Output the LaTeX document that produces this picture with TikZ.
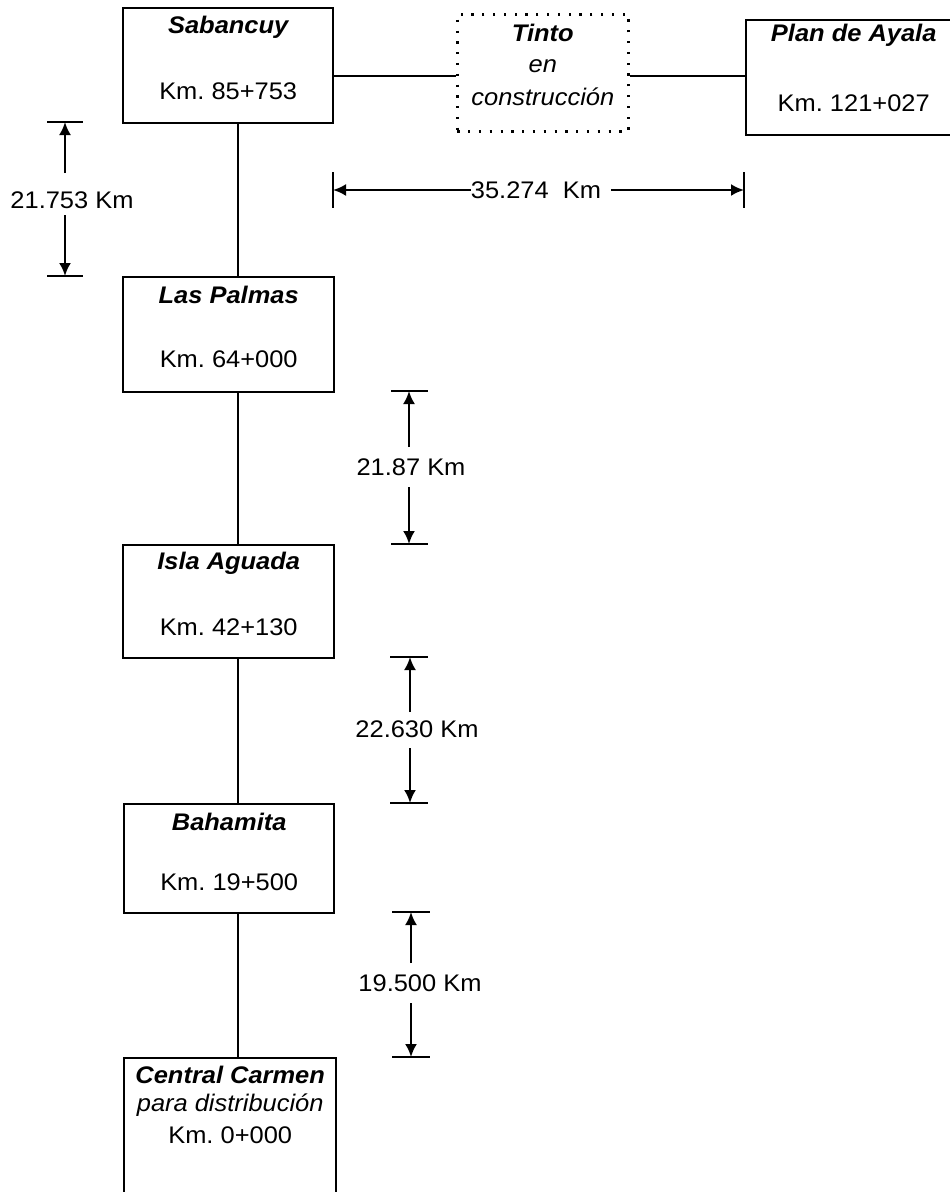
\documentclass[tikz,border=0pt]{standalone}
\usepackage{fontspec}
\setmainfont{Liberation Sans}[FakeStretch=1.06]
\usetikzlibrary{arrows.meta,calc}
\frenchspacing
\begin{document}
\begin{tikzpicture}[x=1pt,y=-1pt,
  box/.style={draw,line width=2.4pt,rectangle,inner sep=0pt,anchor=north west},
  dotbox/.style={draw,line width=2.6pt,dash pattern=on 2.2pt off 8.6pt,rectangle,inner sep=0pt,anchor=north west},
  ttl/.style={font=\fontsize{24}{28}\selectfont\bfseries\itshape,inner sep=0pt},
  itl/.style={font=\fontsize{24}{28}\selectfont\itshape,inner sep=0pt},
  km/.style={font=\fontsize{24}{28}\selectfont,inner sep=0pt},
  ln/.style={line width=2.2pt},
  tickln/.style={line width=1.4pt},
  arr/.style={line width=2.2pt,-{Latex[length=13pt,width=12pt]}},
  dim/.style={font=\fontsize{24}{28}\selectfont,inner sep=0pt}
]
\useasboundingbox (0,0) rectangle (950,1192);
\clip (0,0) rectangle (950,1192);

% boxes
\node[box,minimum width=210pt,minimum height=115pt] (sab) at (122,7) {};
\node[dotbox,minimum width=171pt,minimum height=117pt] (tin) at (456,13) {};
\node[box,minimum width=215pt,minimum height=115pt] (pla) at (745,19) {};
\node[box,minimum width=211pt,minimum height=115pt] (lp) at (122,276) {};
\node[box,minimum width=211pt,minimum height=113pt] (ia) at (122,544) {};
\node[box,minimum width=210pt,minimum height=109pt] (bah) at (123,803) {};
\node[box,minimum width=212pt,minimum height=160pt] (cc) at (123,1057) {};

% texts in boxes
\node[ttl] (sabT) at ([yshift=-20pt]sab.north) {Sabancuy};
\node[km]  (sabK) at ([yshift=-84pt]sab.north) {Km. 85+753};
\node[ttl] (tinT) at ([yshift=-20pt]tin.north) {Tinto};
\node[itl] (tinE) at ([yshift=-53pt]tin.north) {en};
\node[itl] (tinC) at ([yshift=-84pt]tin.north) {construcción};
\node[ttl] (plaT) at ([yshift=-16pt]pla.north) {Plan de Ayala};
\node[km]  (plaK) at ([yshift=-84pt]pla.north) {Km. 121+027};
\node[ttl] (lpT) at ([yshift=-19pt]lp.north) {Las Palmas};
\node[km]  (lpK) at ([yshift=-83pt]lp.north) {Km. 64+000};
\node[ttl] (iaT) at ([yshift=-19pt]ia.north) {Isla Aguada};
\node[km]  (iaK) at ([yshift=-83pt]ia.north) {Km. 42+130};
\node[ttl] (bahT) at ([yshift=-19pt]bah.north) {Bahamita};
\node[km]  (bahK) at ([yshift=-79pt]bah.north) {Km. 19+500};
\node[ttl] (ccT) at ([yshift=-18pt]cc.north) {Central Carmen};
\node[itl] (ccP) at ([yshift=-48pt]cc.north) {para distribución};
\node[km]  (ccK) at ([yshift=-78pt]cc.north) {Km. 0+000};

% connectors
\coordinate (vl) at (238,0);
\coordinate (hl) at (0,76);
\draw[ln] (sab.south -| vl) -- (lp.north -| vl);
\draw[ln] (lp.south -| vl) -- (ia.north -| vl);
\draw[ln] (ia.south -| vl) -- (bah.north -| vl);
\draw[ln] (bah.south -| vl) -- (cc.north -| vl);
\draw[ln] (sab.east |- hl) -- (tin.west |- hl);
\draw[ln] (tin.east |- hl) -- (pla.west |- hl);

% dimension 21.753
\coordinate (d1a) at (65,122);
\coordinate (d1b) at (65,276);
\node[dim] (d1t) at (72,200) {21.753 Km};
\draw[tickln] ([xshift=-18pt]d1a) -- ([xshift=18pt]d1a);
\draw[tickln] ([xshift=-18pt]d1b) -- ([xshift=18pt]d1b);
\draw[arr] ($(d1a)+(0,51)$) -- (d1a);
\draw[arr] ($(d1b)+(0,-61)$) -- (d1b);

% dimension 21.87
\coordinate (d2a) at (409,391);
\coordinate (d2b) at (409,544);
\node[dim] (d2t) at (411,467) {21.87 Km};
\draw[tickln] ([xshift=-18pt]d2a) -- ([xshift=19pt]d2a);
\draw[tickln] ([xshift=-18pt]d2b) -- ([xshift=19pt]d2b);
\draw[arr] ($(d2a)+(0,56)$) -- (d2a);
\draw[arr] ($(d2b)+(0,-57)$) -- (d2b);

% dimension 22.630
\coordinate (d3a) at (410,657);
\coordinate (d3b) at (410,803);
\node[dim] (d3t) at (417,729) {22.630 Km};
\draw[tickln] ([xshift=-20pt]d3a) -- ([xshift=18pt]d3a);
\draw[tickln] ([xshift=-20pt]d3b) -- ([xshift=18pt]d3b);
\draw[arr] ($(d3a)+(0,55)$) -- (d3a);
\draw[arr] ($(d3b)+(0,-55)$) -- (d3b);

% dimension 19.500
\coordinate (d4a) at (411,912);
\coordinate (d4b) at (411,1057);
\node[dim] (d4t) at (420,983) {19.500 Km};
\draw[tickln] ([xshift=-19pt]d4a) -- ([xshift=19pt]d4a);
\draw[tickln] ([xshift=-19pt]d4b) -- ([xshift=19pt]d4b);
\draw[arr] ($(d4a)+(0,51)$) -- (d4a);
\draw[arr] ($(d4b)+(0,-54)$) -- (d4b);

% dimension 35.274 (horizontal)
\coordinate (d5a) at (333,190);
\coordinate (d5b) at (744,190);
\node[dim] (d5t) at (536,190) {35.274\ \ Km};
\draw[tickln] ([yshift=18pt]d5a) -- ([yshift=-18pt]d5a);
\draw[tickln] ([yshift=18pt]d5b) -- ([yshift=-18pt]d5b);
\draw[arr] (d5t.west) -- (d5a);
\draw[arr] ($(d5t.east)+(10,0)$) -- (d5b);
\end{tikzpicture}
\end{document}
